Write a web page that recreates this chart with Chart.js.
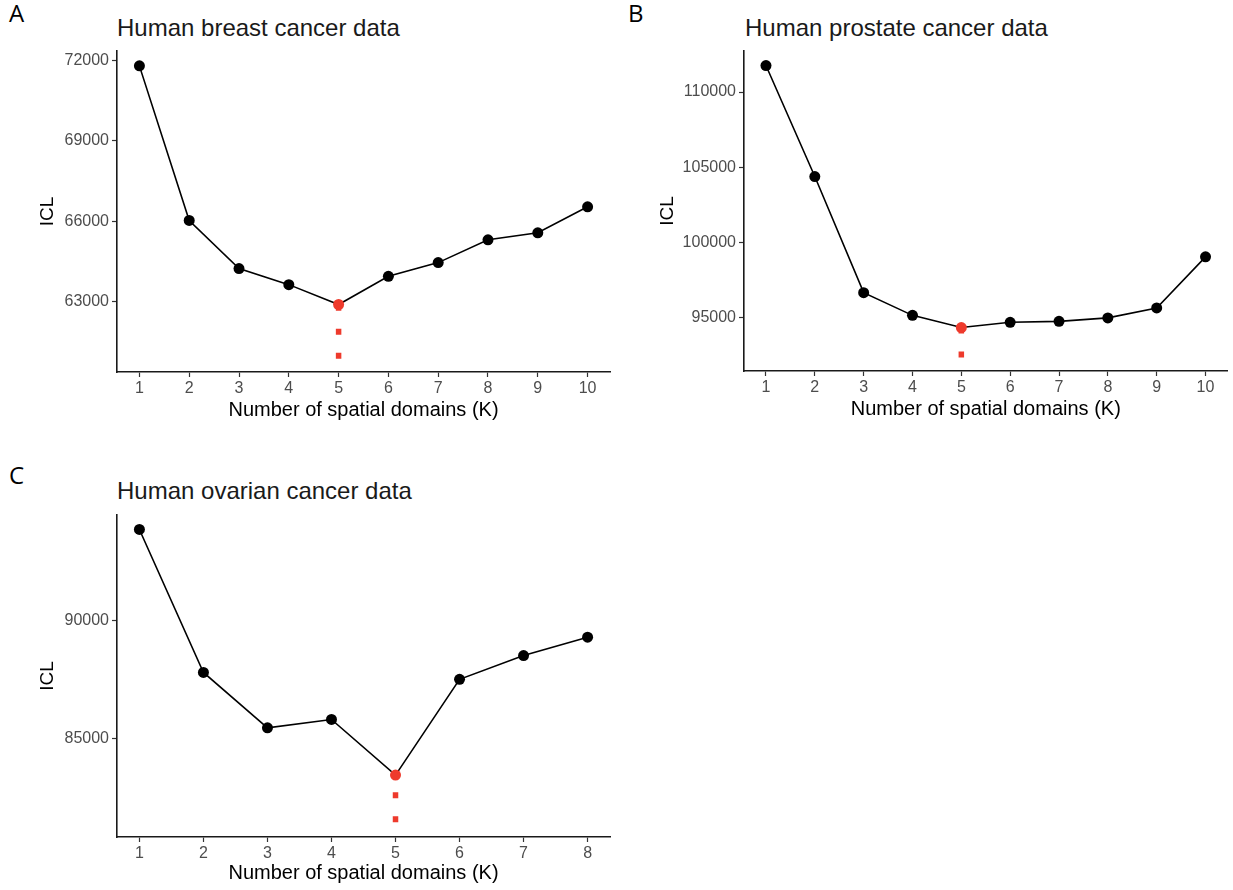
<!DOCTYPE html>
<html>
<head>
<meta charset="utf-8">
<script src="https://cdn.jsdelivr.net/npm/chart.js@4.4.1/dist/chart.umd.min.js"></script>
<style>
  html, body { margin: 0; padding: 0; background: #ffffff; overflow: hidden; }
  #wrap { position: relative; width: 1233px; height: 890px; background: #fff; }
  canvas { position: absolute; }
  .letter { position: absolute; font-family: "Open Sans", "Noto Sans", sans-serif; font-size: 24px; font-weight: 500; line-height: 24px; color: #000; }
  .ptitle { position: absolute; font-family: "Liberation Sans", Arial, sans-serif; font-size: 24px; line-height: 24px; color: #1a1a1a; white-space: nowrap; }
</style>
</head>
<body>
<div id="wrap">
  <div class="letter" style="left:9px; top:1px;">A</div>
  <div class="ptitle" style="left:117px; top:16px;">Human breast cancer data</div>
  <div class="letter" style="left:628px; top:1px;">B</div>
  <div class="ptitle" style="left:745px; top:16px;">Human prostate cancer data</div>
  <div class="letter" style="left:9px; top:463px;">C</div>
  <div class="ptitle" style="left:117px; top:479px;">Human ovarian cancer data</div>
  <canvas id="cA" width="620" height="440" style="left:0px; top:0px;"></canvas>
  <canvas id="cB" width="613" height="440" style="left:620px; top:0px;"></canvas>
  <canvas id="cC" width="620" height="430" style="left:0px; top:460px;"></canvas>
</div>
<script>
// ---- Data ----
const kA = [1, 2, 3, 4, 5, 6, 7, 8, 9, 10];
const iclA = [71790, 66030, 64240, 63640, 62900, 63950, 64460, 65310, 65570, 66540];
const yTicksA = [63000, 66000, 69000, 72000];

const kB = [1, 2, 3, 4, 5, 6, 7, 8, 9, 10];
const iclB = [111760, 104380, 96660, 95150, 94340, 94690, 94750, 94980, 95640, 99040];
const yTicksB = [95000, 100000, 105000, 110000];

const kC = [1, 2, 3, 4, 5, 6, 7, 8];
const iclC = [93880, 87805, 85455, 85808, 83445, 87515, 88525, 89305];
const yTicksC = [85000, 90000];

const bestK = 5;                 // selected number of domains (red marker)
const dashLowA = 60880;          // lower end of the red dotted marker line
const dashLowB = 92340;
const dashLowC = 81440;

const xTitle = 'Number of spatial domains (K)';
const yTitle = 'ICL';

// ---- Styles ----
const RED = '#EE3A2C';
const TICK_COLOR = '#4D4D4D';
const FONT = '"Liberation Sans", Arial, sans-serif';

function makePanel(id, ks, vals, yTicks, dashLow, geom) {
  const pts = ks.map((k, i) => ({ x: k, y: vals[i] }));
  const bestIdx = ks.indexOf(bestK);
  const dashPts = [{ x: bestK, y: dashLow }, { x: bestK, y: vals[bestIdx] }];
  const n = ks.length;
  const xPad = (ks[n - 1] - ks[0]) * 0.05;
  return new Chart(document.getElementById(id), {
    type: 'line',
    data: {
      datasets: [
        {
          data: pts,
          borderColor: '#000',
          borderWidth: 1.6,
          pointRadius: 5.5,
          pointHoverRadius: 5.5,
          pointBorderWidth: 0,
          pointBackgroundColor: ks.map(k => k === bestK ? RED : '#000'),
          pointBorderColor: ks.map(k => k === bestK ? RED : '#000'),
          tension: 0,
          order: 0
        },
        {
          data: dashPts,
          borderColor: RED,
          borderWidth: 5.5,
          borderDash: [6, 18],
          borderCapStyle: 'butt',
          pointRadius: 0,
          order: 1
        }
      ]
    },
    options: {
      responsive: false,
      animation: false,
      events: [],
      layout: { padding: { left: 0, right: geom.padRight, top: geom.padTop, bottom: 0 } },
      plugins: { legend: { display: false }, tooltip: { enabled: false }, title: { display: false } },
      scales: {
        x: {
          type: 'linear',
          min: ks[0] - xPad,
          max: ks[n - 1] + xPad,
          afterFit: s => { s.height = geom.xHeight; },
          afterBuildTicks: s => { s.ticks = ks.map(v => ({ value: v })); },
          ticks: { color: TICK_COLOR, font: { family: FONT, size: 16 }, padding: 2, maxRotation: 0, autoSkip: false,
                   callback: v => String(v) },
          grid: { display: true, drawOnChartArea: false, drawTicks: true, tickLength: 5, tickColor: '#333', tickWidth: 1.2 },
          border: { display: true, color: '#1a1a1a', width: 1.6 },
          title: { display: true, text: xTitle, color: '#000', font: { family: FONT, size: 20 }, padding: { top: 0, bottom: geom.xTitlePad } }
        },
        y: {
          type: 'linear',
          min: geom.yMin,
          max: geom.yMax,
          afterFit: s => { s.width = geom.yWidth; },
          afterBuildTicks: s => { s.ticks = yTicks.map(v => ({ value: v })); },
          ticks: { color: TICK_COLOR, font: { family: FONT, size: 16 }, padding: 3, autoSkip: false,
                   callback: v => String(v) },
          grid: { display: true, drawOnChartArea: false, drawTicks: true, tickLength: 5, tickColor: '#333', tickWidth: 1.2 },
          border: { display: true, color: '#1a1a1a', width: 1.6 },
          title: { display: true, text: yTitle, color: '#000', font: { family: FONT, size: 19 }, padding: { top: geom.yTitlePad, bottom: 0 } }
        }
      }
    }
  });
}

makePanel('cA', kA, iclA, yTicksA, dashLowA,
  { padRight: 10, padTop: 51, xHeight: 68, xTitlePad: 18, yWidth: 117, yTitlePad: 36, yMin: 60385, yMax: 72344 });
makePanel('cB', kB, iclB, yTicksB, dashLowB,
  { padRight: 2, padTop: 51, xHeight: 69, xTitlePad: 19, yWidth: 124, yTitlePad: 36, yMin: 91450, yMax: 112726 });
makePanel('cC', kC, iclC, yTicksC, dashLowC,
  { padRight: 10, padTop: 55, xHeight: 53, xTitlePad: 5, yWidth: 117, yTitlePad: 36, yMin: 80816, yMax: 94494 });
</script>
</body>
</html>
